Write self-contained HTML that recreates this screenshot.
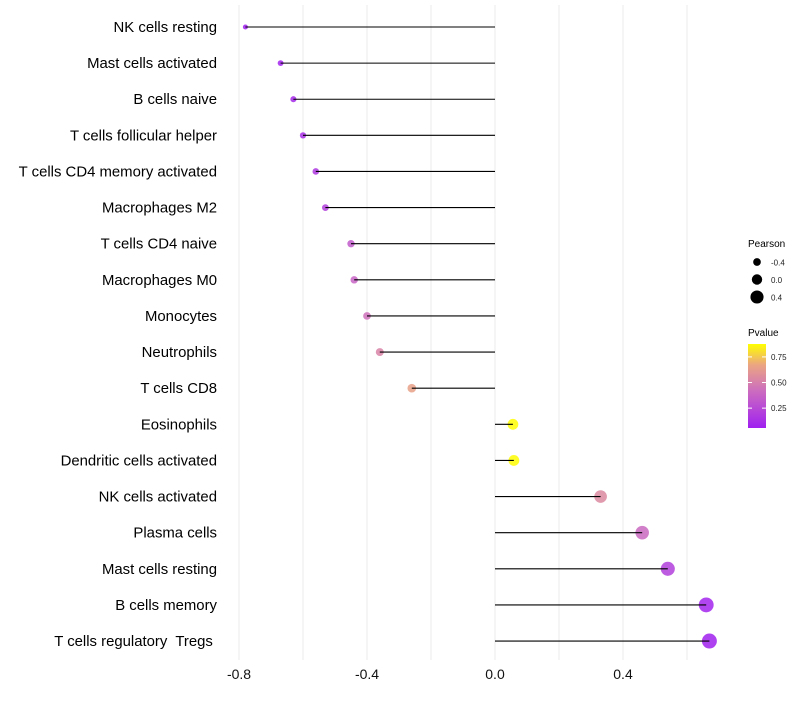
<!DOCTYPE html>
<html><head><meta charset="utf-8"><style>
body{margin:0;background:#fff;font-family:"Liberation Sans",sans-serif}
text{white-space:pre}
</style></head><body>
<svg id="c" width="800" height="700"></svg>
<script>
const categories=["NK cells resting","Mast cells activated","B cells naive","T cells follicular helper","T cells CD4 memory activated","Macrophages M2","T cells CD4 naive","Macrophages M0","Monocytes","Neutrophils","T cells CD8","Eosinophils","Dendritic cells activated","NK cells activated","Plasma cells","Mast cells resting","B cells memory","T cells regulatory  Tregs "];
const pearson=[-0.78,-0.67,-0.63,-0.60,-0.56,-0.53,-0.45,-0.44,-0.40,-0.36,-0.26,0.056,0.059,0.33,0.46,0.54,0.66,0.67];
const pvalue=[0.03,0.07,0.10,0.12,0.17,0.20,0.33,0.38,0.44,0.52,0.65,0.87,0.87,0.55,0.40,0.20,0.08,0.06];
const xTicks=[-0.8,-0.4,0.0,0.4];
const xTickLabels=["-0.8","-0.4","0.0","0.4"];
const gridVals=[-0.8,-0.6,-0.4,-0.2,0,0.2,0.4,0.6];
const sizeLegend=[-0.4,0.0,0.4];
const colorTicks=[0.25,0.5,0.75];
const NS="http://www.w3.org/2000/svg";
const svg=document.getElementById('c');
const x=v=>495+320*v;
const y=i=>27+i*36.12;
const r=v=>5.2+3.4*v;
const pmin=0.056,pmax=0.876;
const stops=[[0,[160,32,240]],[0.45,[205,110,190]],[0.75,[235,165,130]],[1,[255,255,0]]];
function col(p){let t=Math.max(0,Math.min(1,(p-pmin)/(pmax-pmin)));
 for(let k=1;k<stops.length;k++){if(t<=stops[k][0]){const [t0,a]=stops[k-1],[t1,b]=stops[k];const s=(t-t0)/(t1-t0);
 return `rgb(${a.map((v,j)=>Math.round(v+(b[j]-v)*s)).join(',')})`;}}
 return 'rgb(255,255,0)';}
function mk(t,at,p){const e=document.createElementNS(NS,t);for(const k in at)e.setAttribute(k,at[k]);(p||svg).appendChild(e);return e;}
gridVals.forEach(v=>{const g=mk('line',{x1:x(v),x2:x(v),y1:5,y2:660,stroke:'#ebebeb','stroke-width':1});

});
xTicks.forEach((v,i)=>{const t=mk('text',{x:x(v),y:679,'text-anchor':'middle','font-size':14,fill:'#111'});t.textContent=xTickLabels[i];

});
categories.forEach((c,i)=>{
 const d=mk('circle',{cx:x(pearson[i]),cy:y(i),r:r(pearson[i]),fill:col(pvalue[i]),'fill-opacity':0.85});
 
 
 const l=mk('line',{x1:x(0),x2:x(pearson[i]),y1:y(i),y2:y(i),stroke:'#000','stroke-width':1.1});
 
 
 const t=mk('text',{x:217,y:y(i)+5,'text-anchor':'end','font-size':14.9,fill:'#000'});t.textContent=c;
 
 
});
let t=mk('text',{x:748,y:247,'font-size':10,fill:'#000'});t.textContent='Pearson';


sizeLegend.forEach((v,i)=>{const cy=262+i*17.5;
 const d=mk('circle',{cx:757,cy:cy,r:r(v),fill:'#000'});
 
 
 const s=mk('text',{x:771,y:cy+3.5,'font-size':8,fill:'#222'});s.textContent=v===0?'0.0':v.toFixed(1);
 
 });
t=mk('text',{x:748,y:336,'font-size':10,fill:'#000'});t.textContent='Pvalue';


const defs=mk('defs',{});const lg=mk('linearGradient',{id:'g',x1:0,y1:1,x2:0,y2:0},defs);
[0,0.2,0.45,0.6,0.75,0.9,1].forEach(s=>mk('stop',{offset:s,'stop-color':col(pmin+s*(pmax-pmin))},lg));
const cb=mk('rect',{x:748,y:344,width:18,height:84,fill:'url(#g)'});


const cy=p=>428-(p-pmin)/(pmax-pmin)*84;
colorTicks.forEach(p=>{mk('line',{x1:748,x2:752,y1:cy(p),y2:cy(p),stroke:'#fff'});mk('line',{x1:762,x2:766,y1:cy(p),y2:cy(p),stroke:'#fff'});
 const s=mk('text',{x:771,y:cy(p)+3,'font-size':8,fill:'#222'});s.textContent=p.toFixed(2);
 
 });
</script>
</body></html>
